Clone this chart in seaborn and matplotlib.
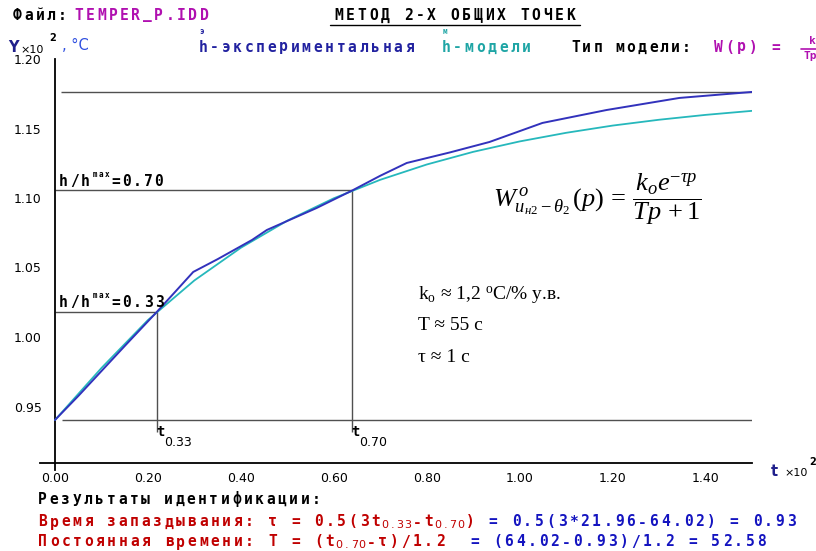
import numpy as np
import pandas as pd
import matplotlib
matplotlib.use("Agg")
import matplotlib.pyplot as plt
from matplotlib.ticker import FormatStrFormatter
import seaborn as sns

# ---------------- data (t in units of x10^2 s, h in units of x10^2 °C) ----------------
t_exp = [0.0, 0.05, 0.10, 0.15, 0.2196, 0.26, 0.2975, 0.35, 0.424, 0.456, 0.563,
         0.6402, 0.70, 0.757, 0.85, 0.935, 1.049, 1.187, 1.344, 1.50]
h_exp = [0.9403, 0.9575, 0.9755, 0.9935, 1.0182, 1.0330, 1.0468, 1.0560, 1.0698, 1.0770,
         1.0928, 1.1055, 1.1160, 1.1252, 1.1328, 1.1403, 1.1540, 1.1633, 1.1720, 1.1763]
t_mod = [0.0, 0.1, 0.2, 0.3, 0.4, 0.5, 0.6, 0.7, 0.8, 0.9, 1.0, 1.1, 1.2, 1.3, 1.4, 1.5]
h_mod = [0.9403, 0.9777, 1.0122, 1.0407, 1.0642, 1.0837, 1.0998, 1.1131, 1.1241, 1.1332,
         1.1407, 1.1469, 1.1521, 1.1563, 1.1598, 1.1627]

h_start = 0.9403     # initial level
h_max = 1.1763       # steady-state level
levels = [0.33, 0.70]
t_levels = [0.2196, 0.6402]   # t0.33 = 21.96 s, t0.70 = 64.02 s
x_ticks = [0.0, 0.2, 0.4, 0.6, 0.8, 1.0, 1.2, 1.4]
y_ticks = [0.95, 1.00, 1.05, 1.10, 1.15, 1.20]

# ---------------- style ----------------
sns.set_style("white")
plt.rcParams["font.family"] = ["DejaVu Sans"]
plt.rcParams["mathtext.fontset"] = "custom"
plt.rcParams["mathtext.rm"] = "Liberation Serif"
plt.rcParams["mathtext.it"] = "Liberation Serif:italic"
plt.rcParams["mathtext.bf"] = "Liberation Serif:bold"

W, H = 816, 551
fig = plt.figure(figsize=(W / 100, H / 100), dpi=100)
fig.patch.set_facecolor("white")

# main axes: pixel box x 40..752, y 59..470
ax = fig.add_axes([40 / W, (H - 470) / H, 712 / W, 411 / H])
ax.set_xlim(-15 / 465, 1.5)
ax.set_ylim(1.20 - 411 / 1390, 1.20)
ax.patch.set_alpha(0)

EXP_C = "#3232bc"
MOD_C = "#26b8bc"
GRAY = "#505050"

sns.lineplot(x=t_mod, y=h_mod, ax=ax, color=MOD_C, linewidth=1.3, zorder=3)
sns.lineplot(x=t_exp, y=h_exp, ax=ax, color=EXP_C, linewidth=1.4, zorder=4)

# reference lines
x_end = t_exp[-1]
ax.hlines(h_max, 0.013, x_end, color=GRAY, lw=1.0, zorder=2)
ax.hlines(h_start, 0.015, x_end, color=GRAY, lw=1.0, zorder=2)
y_foot = 0.9317
for lv, tl in zip(levels, t_levels):
    hl = h_start + lv * (h_max - h_start)
    ax.hlines(hl, 0, tl, color=GRAY, lw=1.0, zorder=2)
    ax.vlines(tl, y_foot, hl, color=GRAY, lw=1.0, zorder=2)

# spines / ticks
for s in ["top", "right"]:
    ax.spines[s].set_visible(False)
ax.spines["left"].set_position(("data", 0))
ax.spines["bottom"].set_position(("data", 0.9097))
for s in ["left", "bottom"]:
    ax.spines[s].set_color("black")
    ax.spines[s].set_linewidth(1.3)
ax.set_xticks(x_ticks)
ax.set_yticks(y_ticks)
ax.xaxis.set_major_formatter(FormatStrFormatter("%.2f"))
ax.yaxis.set_major_formatter(FormatStrFormatter("%.2f"))
ax.tick_params(axis="both", direction="inout", length=7, width=1.1, colors="black",
               labelsize=9)
ax.tick_params(axis="x", pad=3)
ax.tick_params(axis="y", pad=6)
ax.set_xlabel("")
ax.set_ylabel("")

# ---------------- overlay in pixel coordinates ----------------
ov = fig.add_axes([0, 0, 1, 1])
ov.set_xlim(0, W)
ov.set_ylim(H, 0)
ov.axis("off")
ov.patch.set_alpha(0)


def to_px(x, y):
    dx, dy = ax.transData.transform((x, y))
    return dx, H - dy


def mono(x, y, s, color="black", pitch=11.4, size=10.5, weight="bold",
         family="DejaVu Sans Mono"):
    for i, ch in enumerate(s):
        if ch.strip():
            ov.text(x + (i + 0.5) * pitch, y, ch, ha="center", va="center",
                    color=color, fontsize=size, fontweight=weight, family=family)
    return x + len(s) * pitch


def seq(x, y, parts):
    for s, color, sub in parts:
        if sub:
            x = mono(x, y + 3, s, color, pitch=7.5, size=8, weight="normal",
                     family="DejaVu Sans")
        else:
            x = mono(x, y, s, color, pitch=11.48)
    return x


MAG = "#b010b0"
RED = "#c00000"
BLUE = "#1414c0"

# header
mono(12, 15, "Файл:", "black", pitch=11.2)
mono(73, 15, "TEMPER_P.IDD", MAG, pitch=11.4)
mono(333, 15, "МЕТОД 2-Х ОБЩИХ ТОЧЕК", "black", pitch=11.6)
ov.plot([330, 580], [25, 25], color="black", lw=1.0)

# legend row
mono(197, 47, "h-экспериментальная", "#2222a0", pitch=11.5)
mono(198, 32, "э", "#2222a0", pitch=7, size=5.5)
mono(440, 47, "h-модели", "#1fa5a5", pitch=11.5)
mono(441, 32, "м", "#1fa5a5", pitch=7, size=5.5)
mono(570, 47, "Тип модели:", "black", pitch=11.1)
mono(713, 47, "W(p) =", MAG, pitch=11.4)
ov.text(812, 41, "k", color=MAG, fontsize=8, fontweight="bold", ha="center",
        va="center", family="DejaVu Sans Mono")
ov.plot([801, 816], [48.5, 48.5], color=MAG, lw=1.2)
ov.text(804, 56, "Tp", color=MAG, fontsize=8, fontweight="bold", ha="left",
        va="center", family="DejaVu Sans Mono")

# y axis caption
ov.text(8, 47, "Y", color="#20208c", fontsize=10.5, fontweight="bold", ha="left",
        va="center")
ov.text(20, 50, "×10", color="black", fontsize=8, ha="left", va="center")
ov.text(49, 38, "2", color="black", fontsize=7, fontweight="bold", ha="left",
        va="center")
ov.text(62, 46, ", °C", color="#3050e0", fontsize=10.5, ha="left", va="center")

# x axis caption
ov.text(771, 471, "t", color="#20208c", fontsize=10.5, fontweight="bold", ha="left",
        va="center")
ov.text(784, 473, "×10", color="black", fontsize=8, ha="left", va="center")
ov.text(809, 462, "2", color="black", fontsize=7, fontweight="bold", ha="left",
        va="center")

# level labels and t markers
for lv, tl in zip(levels, t_levels):
    hl = h_start + lv * (h_max - h_start)
    px, py = to_px(0, hl)
    x = mono(px + 3, py - 9, "h/h", "black", pitch=10.8)
    mono(x + 2, py - 16, "max", "black", pitch=6.0, size=5.5)
    mono(x + 20, py - 9, "=%.2f" % lv, "black", pitch=10.8)
    tx, ty = to_px(tl, y_foot)
    ov.text(tx - 1, ty, "t", color="black", fontsize=10, fontweight="bold",
            ha="left", va="center", family="DejaVu Sans Mono")
    ov.text(tx + 7, ty + 11, "%.2f" % lv, color="black", fontsize=9, ha="left",
            va="center")

# transfer function
ov.text(493, 199,
        r"$W^{\,o}_{u_{н2}-\theta_2}\,(p)\,=\,\dfrac{k_o e^{-\tau p}}{Tp\,+1}$",
        fontsize=19, ha="left", va="center", color="black")

# parameter estimates
ov.text(418, 295, r"k$_\mathrm{o}$ ≈ 1,2 $^\mathrm{o}$C/% у.в.", family="Liberation Serif",
        fontsize=14, ha="left", va="center", color="black")
ov.text(418, 325, "T ≈ 55 с", family="Liberation Serif", fontsize=14, ha="left",
        va="center", color="black")
ov.text(418, 357, "τ ≈ 1 с", family="Liberation Serif", fontsize=14, ha="left",
        va="center", color="black")

# results block
mono(37, 499, "Результаты идентификации:", "black", pitch=11.4)
seq(37, 522, [("Время запаздывания: τ = 0.5(3t", RED, False),
              ("0.33", RED, True), ("-t", RED, False), ("0.70", RED, True),
              (")", RED, False), (" = 0.5(3*21.96-64.02) = 0.93", BLUE, False)])
seq(37, 542, [("Постоянная времени: T = (t", RED, False), ("0.70", RED, True),
              ("-τ)/1.2", RED, False), ("  = (64.02-0.93)/1.2 = 52.58", BLUE, False)])

fig.savefig("out.png", dpi=100, facecolor="white")
